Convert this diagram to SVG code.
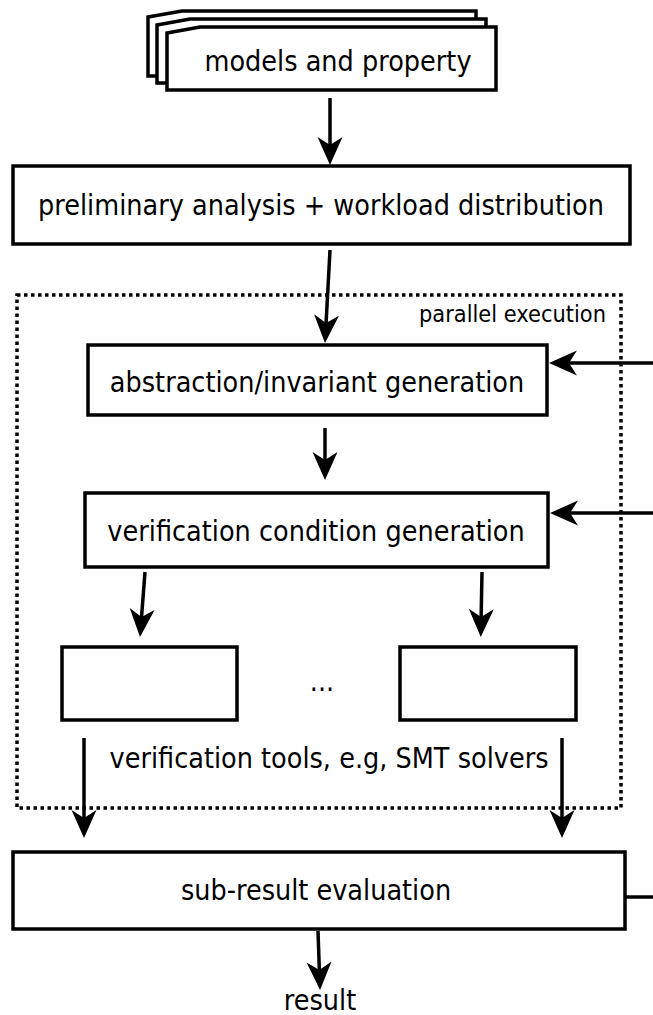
<svg xmlns="http://www.w3.org/2000/svg" width="653" height="1015" viewBox="0 0 653 1015">
<style>
.box{fill:#fff;stroke:#000;stroke-width:3.5}
.t{font-family:"DejaVu Sans",sans-serif;font-size:25.6px;fill:#000;text-anchor:middle}
.s{font-family:"DejaVu Sans",sans-serif;font-size:21px;fill:#000;text-anchor:end}
.c{fill:none;stroke:#000;stroke-width:3.5}
.frame{fill:none;stroke:#000;stroke-width:3.5;stroke-dasharray:3.5 3.5}
</style>
<defs>
<marker id="ah" viewBox="-18 -14 34 28" refX="0" refY="0" markerWidth="34" markerHeight="28" markerUnits="userSpaceOnUse" orient="auto">
<path d="M13,0 L-15,-12.5 L-7,0 L-15,12.5 Z" fill="#000"/>
</marker>
</defs>
<rect width="653" height="1015" fill="#fff"/>
<g id="frame">
<rect class="frame" x="17" y="295" width="604" height="513"/>
<text class="s" transform="translate(606,322) scale(1,1.1)">parallel execution</text>
</g>
<g id="models">
<path class="box" d="M148,17 L182,11 L476,11 L476,76 L148,76 Z"/>
<path class="box" d="M157,25 L190,19 L486,19 L486,83 L157,83 Z"/>
<path class="box" d="M167,33 L200,27 L496,27 L496,90 L167,90 Z"/>
<text class="t" transform="translate(338,71) scale(1,1.1)">models and property</text>
</g>
<g id="prelim">
<rect class="box" x="13" y="166" width="617" height="78"/>
<text class="t" transform="translate(321,215) scale(1,1.1)">preliminary analysis + workload distribution</text>
</g>
<g id="abstraction">
<rect class="box" x="88" y="345" width="459" height="70"/>
<text class="t" transform="translate(317,392) scale(1,1.1)">abstraction/invariant generation</text>
</g>
<g id="vcgen">
<rect class="box" x="85" y="493" width="463" height="74"/>
<text class="t" transform="translate(316,541) scale(1,1.1)">verification condition generation</text>
</g>
<g id="tool1">
<rect class="box" x="62" y="647" width="175" height="73"/>
</g>
<g id="dots">
<text class="t" transform="translate(322,691) scale(1,1.1)">...</text>
</g>
<g id="tool2">
<rect class="box" x="400" y="647" width="176" height="73"/>
</g>
<g id="toolslabel">
<text class="t" transform="translate(329,768) scale(1,1.1)">verification tools, e.g, SMT solvers</text>
</g>
<g id="subresult">
<rect class="box" x="13" y="852" width="612" height="77"/>
<text class="t" transform="translate(316,900) scale(1,1.1)">sub-result evaluation</text>
</g>
<g id="result">
<text class="t" transform="translate(320,1010) scale(1,1.1)">result</text>
</g>
<g id="connectors">
<line class="c" x1="330" y1="98" x2="330" y2="152" marker-end="url(#ah)"/>
<line class="c" x1="330" y1="250" x2="325.7" y2="330" marker-end="url(#ah)"/>
<line class="c" x1="653" y1="363" x2="562" y2="363" marker-end="url(#ah)"/>
<line class="c" x1="325" y1="428" x2="325" y2="467" marker-end="url(#ah)"/>
<line class="c" x1="653" y1="513" x2="563" y2="513" marker-end="url(#ah)"/>
<line class="c" x1="145" y1="572" x2="141" y2="624" marker-end="url(#ah)"/>
<line class="c" x1="482" y1="572" x2="481" y2="624" marker-end="url(#ah)"/>
<line class="c" x1="84" y1="738" x2="84" y2="825" marker-end="url(#ah)"/>
<line class="c" x1="562" y1="738" x2="562" y2="825" marker-end="url(#ah)"/>
<line class="c" x1="625" y1="897" x2="653" y2="897"/>
<line class="c" x1="318" y1="931" x2="319.6" y2="977" marker-end="url(#ah)"/>
</g>
</svg>
